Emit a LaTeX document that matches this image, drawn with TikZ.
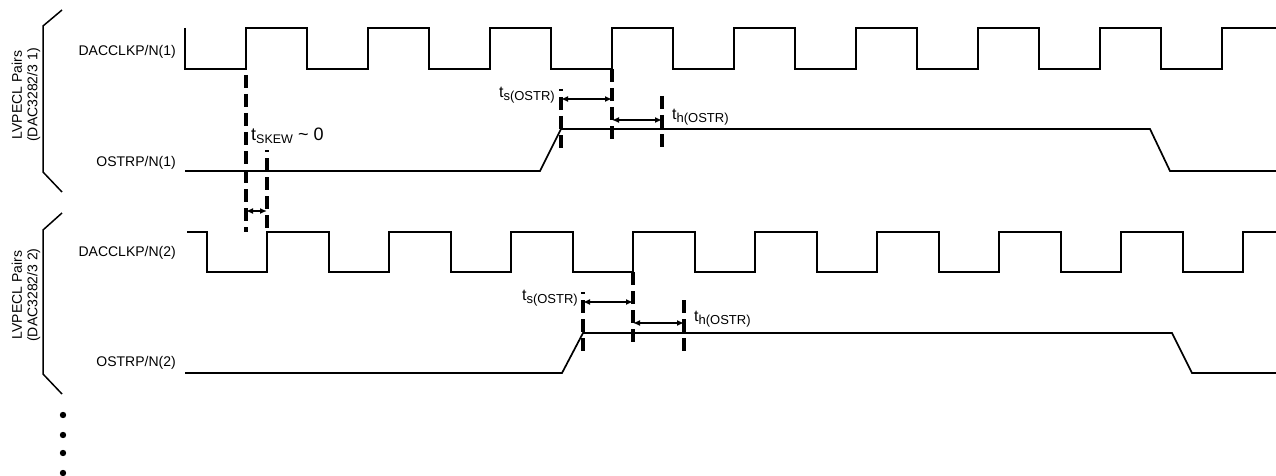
\documentclass[tikz,border=0pt]{standalone}
\usepackage{fontspec}
\setmainfont{Liberation Sans}
\usetikzlibrary{arrows.meta}

\newcommand{\tsub}[3]{{\fontsize{#1}{#1}\selectfont t}\raisebox{-3.5pt}{\fontsize{#2}{#2}\selectfont #3}}

\begin{document}
\begin{tikzpicture}[x=1pt,y=-1pt]
  \tikzset{
    sig/.style={draw=black, line width=1.7pt, line join=miter},
    mark line/.style={draw=black, line width=3.4pt, dash pattern=on 13pt off 6pt},
    brace/.style={draw=black, line width=1.5pt},
    lbl/.style={font=\fontsize{14}{15.5}\selectfont, inner sep=0pt},
    meas/.style={draw=black, line width=1.5pt, {Latex[length=7pt,width=6pt]}-{Latex[length=7pt,width=6pt]}}
  }
  \useasboundingbox (0,0) rectangle (1276,476);

  % group brackets
  \draw[brace] (62,10) -- (43,26) -- (43,172) -- (62,192);
  \draw[brace] (62,213) -- (43,230) -- (43,374) -- (62,394);

  % group labels
  \node[lbl, rotate=90, align=center] (grpA) at (26,95) {LVPECL Pairs\\(DAC3282/3 1)};
  \node[lbl, rotate=90, align=center] (grpB) at (26,295) {LVPECL Pairs\\(DAC3282/3 2)};

  % signal names
  \node[lbl, anchor=east] (clkA) at (176,52) {DACCLKP/N(1)};
  \node[lbl, anchor=east] (ostrA) at (176,163) {OSTRP/N(1)};
  \node[lbl, anchor=east] (clkB) at (176,253) {DACCLKP/N(2)};
  \node[lbl, anchor=east] (ostrB) at (176,363) {OSTRP/N(2)};

  % clock 1
  \draw[sig] (185,28) -- (185,69)
    \foreach \k in {0,...,7} {
      -- ({246+122*\k},69) -- ({246+122*\k},28) -- ({307+122*\k},28) -- ({307+122*\k},69)
    } -- (1222,69) -- (1222,28) -- (1276,28);

  % clock 2
  \draw[sig] (187,232) -- (207,232) -- (207,272)
    \foreach \k in {0,...,7} {
      -- ({267+122*\k},272) -- ({267+122*\k},232) -- ({329+122*\k},232) -- ({329+122*\k},272)
    } -- (1243,272) -- (1243,232) -- (1276,232);

  % ostr 1 and 2
  \draw[sig] (185,171) -- (540,171) -- (561,129) -- (1150,129) -- (1170,171) -- (1276,171);
  \draw[sig] (185,373) -- (562,373) -- (583,333) -- (1172,333) -- (1192,373) -- (1276,373);

  % skew marks
  \coordinate (skA1) at (246,75);   \coordinate (skA2) at (246,232);
  \coordinate (skB1) at (267,150);  \coordinate (skB2) at (267,232);
  \draw[mark line] (skA1) -- (skA2);
  \draw[mark line, dash phase=11pt] (skB1) -- (skB2);
  \coordinate (skL) at (246,211);   \coordinate (skR) at (267,211);
  \draw[meas] (skL) -- (skR);
  \node[anchor=west, inner sep=0pt] (skew) at (251,136) {\tsub{18}{12.5}{SKEW}\fontsize{18}{18}\selectfont{} \textasciitilde{} 0};

  % setup / hold marks, group 1
  \coordinate (suA1) at (561,89);   \coordinate (suA2) at (561,150);
  \coordinate (edA1) at (612,69);   \coordinate (edA2) at (612,142);
  \coordinate (hoA1) at (662,96);   \coordinate (hoA2) at (662,150);
  \draw[mark line, dash phase=11pt] (suA1) -- (suA2);
  \draw[mark line] (edA1) -- (edA2);
  \draw[mark line] (hoA1) -- (hoA2);
  \draw[meas] (561,99) coordinate (suAl) -- (612,99) coordinate (suAr);
  \draw[meas] (612,120) coordinate (hoAl) -- (662,120) coordinate (hoAr);
  \node[anchor=east, inner sep=0pt] (tsA) at (555,95) {\tsub{16}{13}{s(OSTR)}};
  \node[anchor=west, inner sep=0pt] (thA) at (672,117) {\tsub{16}{13}{h(OSTR)}};

  % setup / hold marks, group 2
  \coordinate (suB1) at (583,292);  \coordinate (suB2) at (583,353);
  \coordinate (edB1) at (633,272);  \coordinate (edB2) at (633,345);
  \coordinate (hoB1) at (684,300);  \coordinate (hoB2) at (684,353);
  \draw[mark line, dash phase=11pt] (suB1) -- (suB2);
  \draw[mark line] (edB1) -- (edB2);
  \draw[mark line] (hoB1) -- (hoB2);
  \draw[meas] (583,302) coordinate (suBl) -- (633,302) coordinate (suBr);
  \draw[meas] (633,323) coordinate (hoBl) -- (684,323) coordinate (hoBr);
  \node[anchor=east, inner sep=0pt] (tsB) at (578,298) {\tsub{16}{13}{s(OSTR)}};
  \node[anchor=west, inner sep=0pt] (thB) at (694,319) {\tsub{16}{13}{h(OSTR)}};

  % more pairs
  \foreach \y in {415,435,453,473}
    \fill (63,\y) circle (3.2);
\end{tikzpicture}
\end{document}
